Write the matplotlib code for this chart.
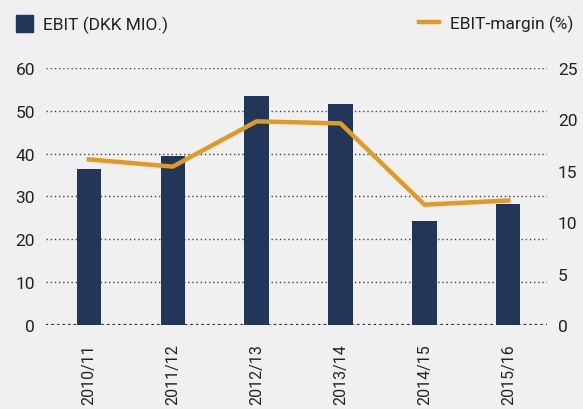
import matplotlib.pyplot as plt
from matplotlib.patches import Patch
from matplotlib.lines import Line2D

plt.rcParams['font.family'] = ['Roboto', 'DejaVu Sans']

years = ['2010/11', '2011/12', '2012/13', '2013/14', '2014/15', '2015/16']
ebit = [36.4, 39.5, 53.5, 51.6, 24.3, 28.3]
margin = [16.1, 15.4, 19.8, 19.6, 11.7, 12.1]

bg = '#f0f0f0'
bar_color = '#22365a'
line_color = '#e09a25'
text_color = '#222222'

fig = plt.figure(figsize=(5.83, 4.10), dpi=100, facecolor=bg)
ax = fig.add_axes([0.079, 0.205, 0.859, 0.627], facecolor=bg)
ax2 = ax.twinx()

x = list(range(len(years)))
bars = ax.bar(x, ebit, width=0.29, color=bar_color, zorder=3)
line, = ax2.plot(x, margin, color=line_color, linewidth=3.2,
                 solid_capstyle='projecting', solid_joinstyle='miter', zorder=4)

ax.set_xlim(-0.51, 5.46)
ax.set_ylim(0, 60)
ax.set_yticks(range(0, 61, 10))
ax2.set_ylim(0, 25)
ax2.set_yticks(range(0, 26, 5))

ax.set_xticks(x)
ax.set_xticklabels(years, rotation=90, fontsize=11.5, color=text_color)

for a in (ax, ax2):
    for s in a.spines.values():
        s.set_visible(False)
    a.tick_params(length=0, labelsize=12.5, colors=text_color)
ax.tick_params(axis='x', labelsize=11.5)
ax.tick_params(axis='y', pad=8)
ax.tick_params(axis='x', pad=13)
ax2.tick_params(axis='y', pad=8)

ax.yaxis.grid(True, linestyle=(0, (1, 2)), color='#444444', linewidth=1.0, zorder=0)
ax.axhline(0, linestyle=(0, (1, 1.5)), color='#222222', linewidth=1.6, zorder=2)
ax.set_axisbelow(True)
ax2.set_zorder(ax.get_zorder() + 1)
ax2.patch.set_visible(False)

fig.legend([Patch(color=bar_color)], ['EBIT (DKK MIO.)'], loc='upper left',
           bbox_to_anchor=(0.0, 1.0), frameon=False, fontsize=12.5,
           handlelength=1.0, handleheight=1.2, handletextpad=0.6,
           labelcolor=text_color)
fig.legend([Line2D([0], [0], color=line_color, linewidth=3.2)], ['EBIT-margin (%)'],
           loc='upper right', bbox_to_anchor=(1.01, 1.0), frameon=False,
           fontsize=12.5, handlelength=1.2, handletextpad=0.6,
           labelcolor=text_color)

fig.savefig('out.png', dpi=100, facecolor=bg)
